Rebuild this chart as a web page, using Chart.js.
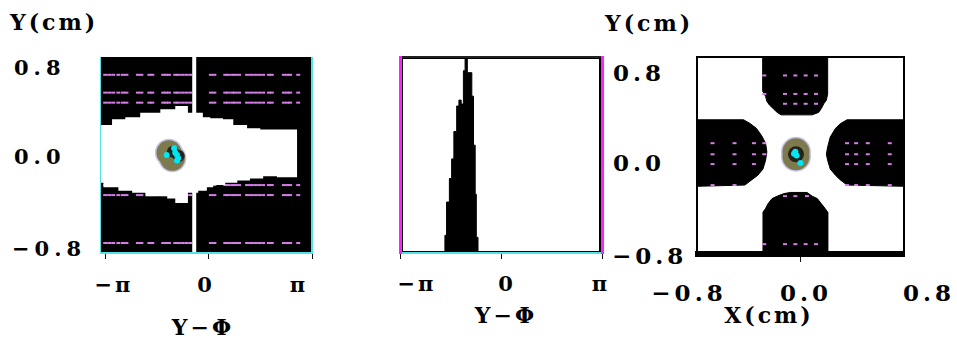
<!DOCTYPE html>
<html>
<head>
<meta charset="utf-8">
<title>Beam phase space</title>
<script src="https://cdn.jsdelivr.net/npm/chart.js@4.4.1/dist/chart.umd.min.js"></script>
<style>
  html, body { margin: 0; padding: 0; background: #fff; }
  #page { position: relative; width: 957px; height: 342px; overflow: hidden;
          font-family: "DejaVu Serif", serif; font-weight: bold; color: #000; }
  .panel { position: absolute; }
  .panel canvas { display: block; }
  .lbl { position: absolute; white-space: nowrap; line-height: 1; font-size: 21px; letter-spacing: 5px; }
  .mid { transform: translate(-50%, -50%); }
  .left { transform: translate(0, -50%); }
  .name { font-size: 22px; letter-spacing: 3px; }
  .pi { letter-spacing: 3px; }
  .big { font-size: 23px; letter-spacing: 4px; }
</style>
</head>
<body>
<div id="page">
  <div class="panel" style="left:100px;top:57px"><canvas id="phaseY" width="214" height="202"></canvas></div>
  <div class="panel" style="left:398px;top:56px"><canvas id="phaseHist" width="206" height="203"></canvas></div>
  <div class="panel" style="left:695px;top:55px"><canvas id="crossXY" width="211" height="207"></canvas></div>

  <!-- left panel text -->
  <div class="lbl name left" style="left:10px;top:22px">Y(cm)</div>
  <div class="lbl left" style="left:14px;top:67px">0.8</div>
  <div class="lbl left" style="left:14px;top:156px">0.0</div>
  <div class="lbl left" style="left:12px;top:248px">−0.8</div>
  <div class="lbl pi mid" style="left:114px;top:284px">−π</div>
  <div class="lbl mid" style="left:207px;top:284px">0</div>
  <div class="lbl mid" style="left:300px;top:284px">π</div>
  <div class="lbl name mid" style="left:203px;top:327px">Y−Φ</div>

  <!-- middle panel text -->
  <div class="lbl pi mid" style="left:417px;top:283px">−π</div>
  <div class="lbl mid" style="left:508px;top:283px">0</div>
  <div class="lbl mid" style="left:602px;top:283px">π</div>
  <div class="lbl name mid" style="left:506px;top:315px">Y−Φ</div>

  <!-- right panel text -->
  <div class="lbl name left" style="left:605px;top:23px">Y(cm)</div>
  <div class="lbl big left" style="left:613px;top:72px">0.8</div>
  <div class="lbl big left" style="left:613px;top:162px">0.0</div>
  <div class="lbl big left" style="left:612px;top:255px">−0.8</div>
  <div class="lbl big mid" style="left:689px;top:292px">−0.8</div>
  <div class="lbl big mid" style="left:806px;top:292px">0.0</div>
  <div class="lbl big mid" style="left:929px;top:292px">0.8</div>
  <div class="lbl name mid" style="left:769px;top:315px">X(cm)</div>
</div>

<script>
"use strict";

// ---------- data ----------

// left panel: Y (cm) against phase Y-Phi, phase in degrees (axis shown as -pi..pi)
var phaseTicks = [-180, 0, 180];
// edges of the white (accepted) region, stepped
var phaseEdges = [-189, -183, -168, -157, -145, -133, -119, -110, -84, -72, -58, -36, -18, -10, -3, 3, 8, 25, 29, 43, 50, 67, 72, 90, 95, 119, 130, 154, 168, 180];
var upperEdge = [0, 0.27, 0.27, 0.32, 0.32, 0.34, 0.34, 0.38, 0.38, 0.41, 0.41, 0.44, 0.38, 0.38, 0.34, 0.34, 0.33, 0.33, 0.32, 0.32, 0.27, 0.27, 0.24, 0.24, 0.23, 0.23, 0.23, 0.23, 0, 0];
var lowerEdge = [0, -0.25, -0.29, -0.29, -0.32, -0.32, -0.34, -0.34, -0.37, -0.37, -0.39, -0.43, -0.34, -0.32, -0.32, -0.29, -0.29, -0.27, -0.27, -0.25, -0.25, -0.23, -0.23, -0.21, -0.21, -0.19, -0.20, -0.20, 0, 0];
var slitPhase = -25;
// magenta particle rows / columns
var dotPhases = [-180, -173, -166, -157, -149, -143, -123, -117, -103, -98, -79, -74, -69, -58, -53, -46, -39, -32, 4, 10, 29, 34, 41, 46, 53, 67, 74, 81, 88, 95, 105, 110, 131, 137, 142, 156];
var dotRows = [0.72, 0.56, 0.47, -0.27, -0.36, -0.79];
// beam bunch
var beam1Cloud = [[-69, 0.02], [-63, -0.03]];
var beam1Core = [[-62, 0.03], [-52, -0.01]];
var beam1Cyan = [[-60, 0.06], [-58, 0.02], [-55, 0.0], [-53, -0.03], [-55, -0.05], [-73, 0.0]];

// middle panel: phase distribution (bin start in degrees, relative count)
var histPhase = [-100, -97, -92, -88, -84, -79, -75, -71, -67, -64, -60, -52, -49, -46, -44, -41, -38];
var histCount = [0.01, 0.09, 0.26, 0.38, 0.48, 0.62, 0.75, 0.78, 0.76, 0.93, 1.0, 0.92, 0.8, 0.55, 0.3, 0.08, 0];

// right panel: X-Y cross section (cm), quadrupole poles
var poleTop = [[-0.29, 0.8], [-0.29, 0.52], [-0.27, 0.48], [-0.26, 0.44], [-0.24, 0.41], [-0.21, 0.38], [-0.18, 0.35], [-0.15, 0.33], [-0.11, 0.33], [0.09, 0.33], [0.14, 0.35], [0.16, 0.38], [0.18, 0.42], [0.2, 0.45], [0.21, 0.5], [0.21, 0.56], [0.21, 0.8]];
var poleBottom = [[-0.29, -0.8], [-0.29, -0.46], [-0.27, -0.43], [-0.25, -0.39], [-0.22, -0.35], [-0.18, -0.33], [-0.13, -0.31], [-0.08, -0.3], [0.05, -0.3], [0.09, -0.33], [0.13, -0.35], [0.16, -0.39], [0.19, -0.43], [0.21, -0.46], [0.21, -0.5], [0.21, -0.8]];
var poleLeft = [[-0.8, 0.29], [-0.44, 0.29], [-0.39, 0.26], [-0.34, 0.22], [-0.3, 0.16], [-0.27, 0.1], [-0.26, 0.03], [-0.27, -0.04], [-0.29, -0.11], [-0.33, -0.16], [-0.38, -0.2], [-0.43, -0.24], [-0.8, -0.25]];
var poleRight = [[0.8, 0.29], [0.36, 0.29], [0.31, 0.26], [0.27, 0.22], [0.23, 0.15], [0.21, 0.07], [0.2, 0.01], [0.21, -0.04], [0.23, -0.11], [0.27, -0.16], [0.31, -0.2], [0.36, -0.24], [0.8, -0.25]];
var poleDots = [
  [-0.28, 0.65], [-0.12, 0.65], [-0.04, 0.65], [0.04, 0.65], [0.12, 0.65],
  [-0.28, 0.5], [-0.12, 0.5], [-0.04, 0.5], [0.04, 0.5], [0.12, 0.5],
  [-0.12, 0.42], [-0.04, 0.42], [0.04, 0.42], [0.12, 0.42],
  [-0.12, -0.33], [-0.04, -0.33], [0.05, -0.33],
  [-0.28, -0.72], [-0.12, -0.72], [-0.04, -0.72], [0.04, -0.72], [0.12, -0.72],
  [-0.68, 0.1], [-0.51, 0.1], [-0.36, 0.1], [-0.28, 0.1],
  [-0.68, 0.01], [-0.51, 0.01], [-0.36, 0.01], [-0.28, 0.01],
  [-0.68, -0.07], [-0.51, -0.07], [-0.36, -0.07],
  [-0.68, -0.24], [-0.51, -0.24],
  [0.36, 0.1], [0.43, 0.1], [0.52, 0.1], [0.69, 0.1],
  [0.36, 0.01], [0.43, 0.01], [0.52, 0.01], [0.69, 0.01],
  [0.36, -0.07], [0.43, -0.07], [0.52, -0.07], [0.69, -0.07],
  [0.36, -0.24], [0.43, -0.24], [0.52, -0.24], [0.69, -0.24]
];
var beam3Cloud = [[-0.035, 0.03], [-0.035, -0.01]];
var beam3Core = [[-0.035, 0.01]];
var beam3Cyan = [[-0.04, 0.03], [-0.03, 0.0], [-0.05, 0.015], [0.0, -0.06]];

// ---------- styles ----------
var CYAN = '#00e6f2';
var AXIS_CYAN = '#52e2ea';
var MAGENTA = '#d47ee6';
var OLIVE = '#7e7a4e';
var HALO = '#c4c3e6';
var DARK = '#23231a';

function pts(pairs) {
    return pairs.map(function (p) { return { x: p[0], y: p[1] }; });
}
function zip(xs, ys) {
    return xs.map(function (x, i) { return { x: x, y: ys[i] }; });
}

var dotGrid = [];
dotRows.forEach(function (y) {
    dotPhases.forEach(function (x) { dotGrid.push({ x: x, y: y }); });
});

// paints the plot area before the datasets
var plotBg = {
    id: 'plotBg',
    beforeDatasetsDraw: function (chart, args, opts) {
        if (!opts.color) return;
        var a = chart.chartArea, ctx = chart.ctx;
        ctx.save();
        ctx.fillStyle = opts.color;
        ctx.fillRect(a.left, a.top, a.right - a.left, a.bottom - a.top);
        ctx.restore();
    }
};
// thin black frame just inside the plot area
var innerFrame = {
    id: 'innerFrame',
    afterDatasetsDraw: function (chart, args, opts) {
        if (!opts.width) return;
        var a = chart.chartArea, ctx = chart.ctx, w = opts.width;
        ctx.save();
        ctx.strokeStyle = opts.color;
        ctx.lineWidth = w;
        ctx.strokeRect(a.left + w, a.top + w / 2, a.right - a.left - 2 * w, a.bottom - a.top - w);
        ctx.restore();
    }
};

function edgeAxis(position, color, width, extra) {
    var ax = {
        type: 'linear',
        position: position,
        grid: { display: false, drawTicks: false },
        ticks: { display: false },
        border: { display: true, color: color, width: width, z: 1 }
    };
    return Object.assign(ax, extra || {});
}
function tickAxis(min, max, tickValues, color, width, tickLength) {
    return {
        type: 'linear',
        position: 'bottom',
        min: min,
        max: max,
        afterBuildTicks: function (axis) {
            axis.ticks = tickValues.map(function (v) { return { value: v }; });
        },
        grid: { display: true, drawOnChartArea: false, drawTicks: true, tickLength: tickLength, color: '#111', lineWidth: 1 },
        ticks: { display: false },
        border: { display: true, color: color, width: width, z: 1 }
    };
}
function baseOptions(padding) {
    return {
        responsive: false,
        animation: false,
        events: [],
        layout: { padding: padding, autoPadding: false },
        plugins: { legend: { display: false }, tooltip: { enabled: false } }
    };
}

// ---------- left: Y versus phase ----------
var opt1 = baseOptions({ left: 0, right: 2, top: 0, bottom: 0 });
opt1.scales = {
    x: tickAxis(-189, 180, phaseTicks, AXIS_CYAN, 2, 6),
    y: edgeAxis('left', AXIS_CYAN, 2, { min: -0.88, max: 0.88 }),
    y2: edgeAxis('right', AXIS_CYAN, 2)
};
opt1.plugins.plotBg = { color: '#000' };

new Chart(document.getElementById('phaseY'), {
    type: 'scatter',
    plugins: [plotBg],
    data: {
        datasets: [
            { label: 'core', data: pts(beam1Cyan), pointRadius: 3, pointBackgroundColor: CYAN, pointBorderWidth: 0, order: 0 },
            { label: 'dark', data: pts(beam1Core), pointRadius: 6, pointBackgroundColor: DARK, pointBorderWidth: 0, order: 1 },
            { label: 'bunch', data: pts(beam1Cloud), pointRadius: 12.5, pointBackgroundColor: OLIVE, pointBorderWidth: 0, order: 2 },
            { label: 'halo', data: pts(beam1Cloud), pointRadius: 14, pointBackgroundColor: HALO, pointBorderWidth: 0, order: 3 },
            { label: 'slit', data: [{ x: slitPhase, y: -0.88 }, { x: slitPhase, y: 0.88 }], showLine: true,
              borderColor: '#fff', borderWidth: 4, pointRadius: 0, order: 4 },
            { label: 'upper edge', data: zip(phaseEdges, upperEdge), showLine: true, stepped: 'after',
              borderColor: 'rgba(0,0,0,0)', borderWidth: 1, pointRadius: 0, fill: '+1', backgroundColor: '#fff', order: 5 },
            { label: 'lower edge', data: zip(phaseEdges, lowerEdge), showLine: true, stepped: 'after',
              borderColor: 'rgba(0,0,0,0)', borderWidth: 1, pointRadius: 0, order: 5 },
            { label: 'particles', data: dotGrid, pointStyle: 'line', pointRadius: 2, pointBorderWidth: 2,
              pointBorderColor: MAGENTA, order: 6 }
        ]
    },
    options: opt1
});

// ---------- middle: phase histogram ----------
var opt2 = baseOptions({ left: 2, right: 2, top: 1, bottom: 0 });
opt2.scales = {
    x: tickAxis(-180, 180, phaseTicks, AXIS_CYAN, 2, 6),
    x2: edgeAxis('top', '#222', 2),
    y: edgeAxis('left', '#ff22ff', 3, { min: 0, max: 1 }),
    y2: edgeAxis('right', '#ff22ff', 3)
};
opt2.plugins.innerFrame = { color: '#000', width: 2 };

new Chart(document.getElementById('phaseHist'), {
    type: 'scatter',
    plugins: [innerFrame],
    data: {
        datasets: [{
            label: 'phase distribution',
            data: zip(histPhase, histCount),
            showLine: true,
            stepped: 'after',
            fill: 'origin',
            backgroundColor: '#000',
            borderColor: '#000',
            borderWidth: 1,
            pointRadius: 0
        }]
    },
    options: opt2
});

// ---------- right: X-Y cross section ----------
var opt3 = baseOptions({ left: 2, right: 2, top: 2, bottom: 0 });
opt3.scales = {
    x: tickAxis(-0.8, 0.8, [0], '#000', 6, 8),
    x2: edgeAxis('top', '#000', 2),
    y: edgeAxis('left', '#000', 2, { min: -0.8, max: 0.8 }),
    y2: edgeAxis('right', '#000', 2)
};

function pole(name, shape) {
    return { label: name, data: pts(shape), showLine: true, fill: 'shape', backgroundColor: '#000',
             borderColor: '#000', borderWidth: 1, pointRadius: 0, order: 6 };
}

new Chart(document.getElementById('crossXY'), {
    type: 'scatter',
    data: {
        datasets: [
            { label: 'core', data: pts(beam3Cyan), pointRadius: 3, pointBackgroundColor: CYAN, pointBorderWidth: 0, order: 0 },
            { label: 'dark', data: pts(beam3Core), pointRadius: 8, pointBackgroundColor: DARK, pointBorderWidth: 0, order: 1 },
            { label: 'bunch', data: pts(beam3Cloud), pointRadius: 13.5, pointBackgroundColor: OLIVE, pointBorderWidth: 0, order: 2 },
            { label: 'halo', data: pts(beam3Cloud), pointRadius: 15, pointBackgroundColor: HALO, pointBorderWidth: 0, order: 3 },
            { label: 'particles', data: pts(poleDots), pointStyle: 'line', pointRadius: 2, pointBorderWidth: 2,
              pointBorderColor: MAGENTA, order: 4 },
            pole('pole top', poleTop),
            pole('pole bottom', poleBottom),
            pole('pole left', poleLeft),
            pole('pole right', poleRight)
        ]
    },
    options: opt3
});
</script>
</body>
</html>
